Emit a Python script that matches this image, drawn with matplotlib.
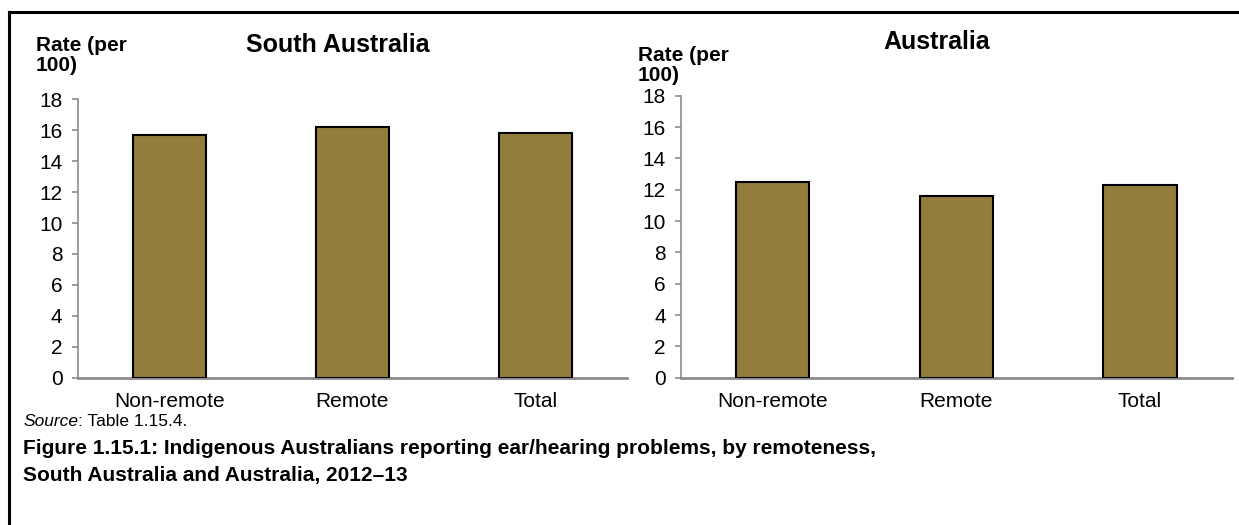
import matplotlib
matplotlib.use("Agg")
from matplotlib import pyplot as plt
from matplotlib.lines import Line2D

plt.rcParams['font.family'] = ['Liberation Sans', 'DejaVu Sans']

categories = ["Non-remote", "Remote", "Total"]
sa_rates = [15.7, 16.2, 15.8]
aus_rates = [12.5, 11.6, 12.3]
panel_titles = ["South Australia", "Australia"]
y_ticks = [0, 2, 4, 6, 8, 10, 12, 14, 16, 18]

bar_color = "#927D3C"
axis_grey = "#8C8C8C"

W, H = 1239, 525
fig = plt.figure(figsize=(W / 100, H / 100), dpi=100)

ax_sa = fig.add_axes([0.0627, 0.2806, 0.4431, 0.5303])
ax_aus = fig.add_axes([0.5496, 0.2806, 0.4445, 0.5371])

for ax, rates in [(ax_sa, sa_rates), (ax_aus, aus_rates)]:
    x = range(len(categories))
    ax.bar(x, rates, width=0.40, color=bar_color, edgecolor="black", linewidth=1.5, zorder=3)
    ax.set_xlim(-0.5, len(categories) - 0.5)
    ax.set_ylim(0, 18)
    ax.set_yticks(y_ticks)
    ax.set_xticks(list(x))
    ax.set_xticklabels(categories)
    ax.tick_params(axis="x", length=0, pad=10, labelsize=15)
    ax.tick_params(axis="y", length=4, width=1.2, color=axis_grey, pad=7, labelsize=15)
    for side in ["top", "right"]:
        ax.spines[side].set_visible(False)
    ax.spines["left"].set_color(axis_grey)
    ax.spines["left"].set_linewidth(1.2)
    ax.spines["bottom"].set_color(axis_grey)
    ax.spines["bottom"].set_linewidth(2)

# panel titles and y axis labels
fig.text(338 / W, 1 - 45 / H, panel_titles[0], ha="center", va="center",
         fontsize=18, fontweight="bold")
fig.text(937 / W, 1 - 42 / H, panel_titles[1], ha="center", va="center",
         fontsize=18, fontweight="bold")
fig.text(36 / W, 1 - 36 / H, "Rate (per\n100)", ha="left", va="top",
         fontsize=15, fontweight="bold", linespacing=1.05)
fig.text(638 / W, 1 - 46 / H, "Rate (per\n100)", ha="left", va="top",
         fontsize=15, fontweight="bold", linespacing=1.05)

# source and caption
src = fig.text(23 / W, 1 - 422 / H, "Source", ha="left", va="center",
               fontsize=12.5, style="italic")
fig.canvas.draw()
bb = src.get_window_extent()
fig.text(bb.x1 / W, 1 - 422 / H, ": Table 1.15.4.", ha="left", va="center",
         fontsize=12.5)
fig.text(23 / W, 1 - 448 / H,
         "Figure 1.15.1: Indigenous Australians reporting ear/hearing problems, by remoteness,",
         ha="left", va="center", fontsize=15, fontweight="bold")
fig.text(23 / W, 1 - 475 / H, "South Australia and Australia, 2012\u201313",
         ha="left", va="center", fontsize=15, fontweight="bold")

# frame around the figure (top and left edges)
fig.add_artist(Line2D([9 / W, 9 / W], [0, 1 - 12 / H], color="black", linewidth=2.2,
                      transform=fig.transFigure))
fig.add_artist(Line2D([9 / W, 1], [1 - 12 / H, 1 - 12 / H], color="black", linewidth=2.2,
                      transform=fig.transFigure))

plt.savefig("out.png", dpi=100)
